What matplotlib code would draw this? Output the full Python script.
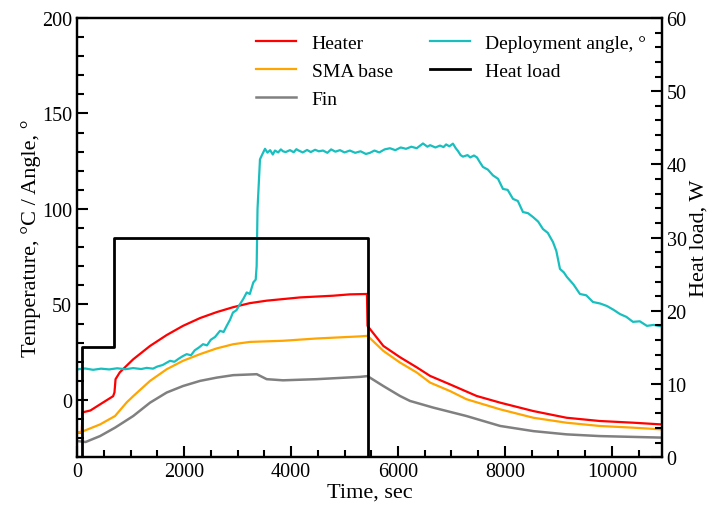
import matplotlib
matplotlib.use("Agg")
import matplotlib.pyplot as plt
from matplotlib.ticker import MultipleLocator

plt.rcParams['font.family'] = ['Liberation Serif', 'DejaVu Serif']
plt.rcParams['mathtext.fontset'] = 'stix'

# ---- data ----
heater_t = [0, 90, 100, 250, 430, 675, 700, 720, 800, 1050, 1365, 1676, 1980, 2300, 2610, 2920,
            3230, 3545, 4170, 4790, 5100, 5420, 5430, 5726, 6037, 6350, 6600, 6970, 7470, 7910,
            8530, 9150, 9770, 10400, 10930]
heater_v = [-17, -17, -6.5, -5.5, -2.3, 2, 4, 10.9, 14.5, 21.3, 28.3, 34, 38.8, 42.9, 46, 48.6,
            50.7, 52, 53.7, 54.6, 55.3, 55.5, 38.8, 28.3, 22.4, 17.1, 12.6, 8.2, 2.1, -1.4,
            -5.8, -9.3, -11, -11.9, -12.8]

sma_t = [0, 100, 430, 710, 930, 1050, 1365, 1676, 1980, 2300, 2610, 2920, 3230, 3850, 4480,
         5290, 5430, 5726, 6037, 6350, 6600, 6970, 7280, 7910, 8530, 9150, 9770, 10400, 10930]
sma_v = [-17, -16.5, -12.8, -8.4, -1.2, 2, 10, 16.1, 20.5, 24, 27, 29.2, 30.4, 31, 32.2,
         33.3, 33.6, 25.7, 19.6, 14.4, 9.1, 4.7, 0.4, -4.9, -9.3, -11.9, -13.6, -14.5, -15.4]

fin_t = [0, 160, 430, 710, 1050, 1365, 1676, 1980, 2300, 2610, 2920, 3360, 3545, 3850, 4480,
         5290, 5430, 5726, 6037, 6224, 6660, 7280, 7910, 8530, 9150, 9770, 10930]
fin_v = [-21.5, -22, -18.9, -14.5, -8.4, -1.4, 3.9, 7.3, 10, 11.7, 13, 13.5, 10.9, 10.3, 10.9,
         12.1, 12.5, 7.3, 2.1, -0.5, -4, -8.4, -13.6, -16.3, -18, -18.9, -19.7]

angle_t = [0, 150, 300, 450, 600, 750, 900, 1050, 1200, 1300, 1420, 1500, 1600, 1680, 1738,
           1820, 1900, 1980, 2050, 2130, 2200, 2280, 2355, 2430, 2500, 2580, 2673, 2740, 2798,
           2860, 2915, 2980, 3047, 3110, 3172, 3230, 3296, 3340, 3358, 3374, 3420, 3470, 3514,
           3560, 3610, 3660, 3700, 3760, 3810, 3850, 3900, 3981, 4050, 4100, 4150, 4220, 4300,
           4370, 4450, 4520, 4598, 4680, 4750, 4830, 4915, 5000, 5100, 5200, 5300, 5400, 5476,
           5560, 5650, 5750, 5850, 5950, 6050, 6150, 6250, 6350, 6467, 6550, 6600, 6700, 6785,
           6850, 6900, 6960, 7027, 7080, 7120, 7170, 7214, 7300, 7350, 7420, 7476, 7530, 7588,
           7680, 7775, 7870, 7962, 8050, 8149, 8240, 8336, 8430, 8523, 8620, 8710, 8800, 8897,
           8960, 9028, 9100, 9158, 9280, 9401, 9520, 9644, 9780, 9906, 10030, 10149, 10270,
           10392, 10520, 10653, 10780, 10896]
angle_v = [16, 16.5, 15.8, 16.4, 16, 16.6, 16.1, 16.7, 16.2, 16.8, 16.4, 17.5, 18.3, 19.6, 20.5,
           20, 21.6, 23, 24, 23.4, 26, 27.5, 29.2, 28.6, 31.5, 33, 36.2, 35.6, 38.8,
           42, 45.8, 47, 50.2, 53, 56.3, 55.5, 61.6, 63, 70.3, 100, 126, 129, 131.5,
           129.5, 130.8, 128.5, 130.6, 129.6, 131.2, 130.2, 129.8, 130.8, 129.7, 131.3, 130.5, 129.6, 130.9,
           129.8, 131, 130.2, 130.6, 129.4, 131.2, 130, 130.8, 129.6, 130.6, 129.4, 130.2, 128.8, 129.4,
           130.6, 129.6, 131.2, 131.8, 130.8, 132.2, 131.5, 132.6, 131.8, 134.3, 132.6, 133.4, 132.2, 133.2,
           132.4, 133.8, 132.8, 134.2, 131.8, 130.4, 128.2, 127.4, 128.2, 127, 128, 127, 124.5, 122,
           120.6, 117.6, 115.8, 110.5, 110, 105.3, 104.2, 98.4, 97.8, 95.8, 93.4, 89.5, 87.5, 82.7,
           78, 68.6, 66.8, 64.4, 60.5, 55.5, 54.8, 51.3, 50.5, 49.2, 47.2, 45, 43.5,
           40.9, 41.2, 38.8, 39.3, 38.7]

load_t = [0, 100, 100, 700, 700, 5430, 5430, 10930]
load_v = [0, 0, 15, 15, 30, 30, 0, 0]

# ---- figure ----
fig = plt.figure(figsize=(7.10, 5.06), dpi=100)
ax = fig.add_axes([0.1085, 0.0943, 0.8235, 0.8682])
ax2 = ax.twinx()

lh, = ax.plot(heater_t, heater_v, color='#FF0000', lw=1.6, label='Heater')
ls, = ax.plot(sma_t, sma_v, color='#FFA500', lw=1.6, label='SMA base')
lf, = ax.plot(fin_t, fin_v, color='#808080', lw=1.8, label='Fin')
la, = ax.plot(angle_t, angle_v, color='#19BFBF', lw=1.6, label='Deployment angle, °')
ll, = ax2.plot(load_t, load_v, color='black', lw=2.0, label='Heat load')

ax.set_xlim(0, 10930)
ax.set_ylim(-30, 200)
ax2.set_ylim(0, 60)

ax.xaxis.set_major_locator(MultipleLocator(2000))
ax.xaxis.set_minor_locator(MultipleLocator(500))
ax.yaxis.set_major_locator(MultipleLocator(50))
ax.yaxis.set_minor_locator(MultipleLocator(10))
ax2.yaxis.set_major_locator(MultipleLocator(10))
ax2.yaxis.set_minor_locator(MultipleLocator(2))

for a in (ax, ax2):
    for s in a.spines.values():
        s.set_linewidth(1.6)
    a.tick_params(which='both', direction='in', labelsize=14.5, width=1.5)
    a.tick_params(which='major', length=8)
    a.tick_params(which='minor', length=5)
ax.tick_params(axis='y', right=False)
ax.tick_params(axis='x', top=False)

ax.set_xlabel('Time, sec', fontsize=16, labelpad=1)
ax.set_ylabel('Temperature, °C / Angle, °', fontsize=16, labelpad=1)
ax2.set_ylabel('Heat load, W', fontsize=16, labelpad=2)

ax.legend(handles=[lh, ls, lf, la, ll], ncol=2, frameon=False, fontsize=14,
          loc='upper left', bbox_to_anchor=(0.306, 0.962), handlelength=2.06,
          handletextpad=0.8, columnspacing=1.9, labelspacing=0.52, borderaxespad=0,
          borderpad=0)

fig.savefig('out.png', dpi=100)
